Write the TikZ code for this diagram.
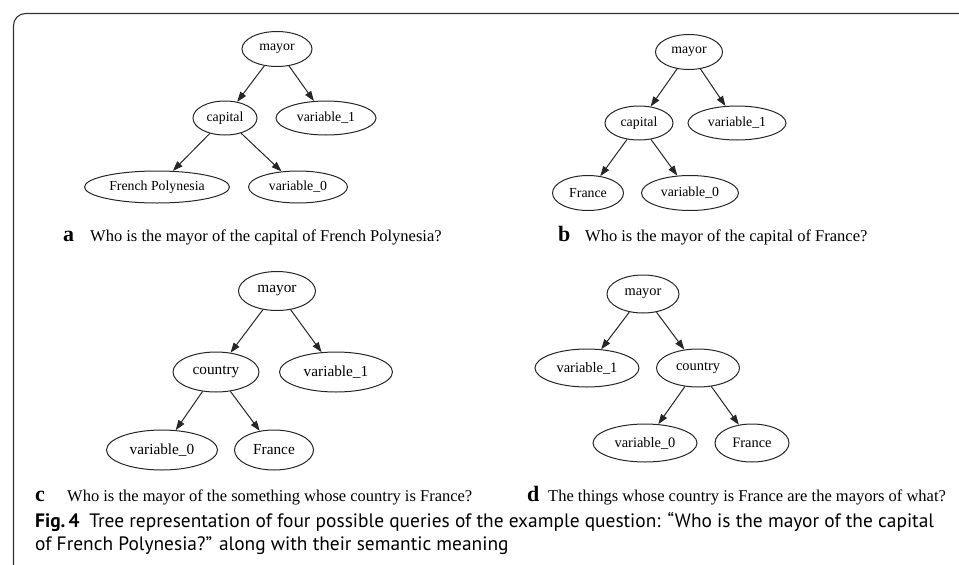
\documentclass[tikz,border=0pt]{standalone}
\usepackage{fontspec}
\setmainfont{Liberation Serif}
\newfontfamily\capfont{PT Sans}
\usetikzlibrary{shapes.geometric,arrows.meta}
\begin{document}
\begin{tikzpicture}[x=1pt,y=-1pt,
  nd/.style={ellipse, draw=black!85, line width=1pt, inner sep=0pt},
  fa/.style={font=\fontsize{13.8}{16}\selectfont},
  fc/.style={font=\fontsize{15.3}{18}\selectfont},
  fd/.style={font=\fontsize{14.4}{17}\selectfont},
  edge/.style={draw=black!85, line width=1pt, -{Triangle[length=10pt,width=7pt]}},
  lbl/.style={anchor=base west, inner sep=0pt, font=\fontsize{22}{24}\selectfont\bfseries},
  qtxt/.style={anchor=base west, inner sep=0pt, font=\fontsize{16.5}{19}\selectfont},
  captxt/.style={anchor=base west, inner sep=0pt, font=\capfont\fontsize{19.4}{23}\selectfont}]
\useasboundingbox (0,0) rectangle (959,565);
% frame
\draw[black!80, line width=1.1pt, rounded corners=12pt] (959,13.5) -- (13.5,13.5) -- (13.5,565);

% panel a
\node[nd,fa,minimum width=70pt,minimum height=35pt] (am) at (277,49) {mayor};
\node[nd,fa,minimum width=64pt,minimum height=34pt] (ac) at (225,118) {capital};
\node[nd,fa,minimum width=100pt,minimum height=34pt] (av1) at (326,118) {variable\_1};
\node[nd,fa,minimum width=145pt,minimum height=32pt] (afp) at (157,187) {French Polynesia};
\node[nd,fa,minimum width=99pt,minimum height=32pt] (av0) at (298,187) {variable\_0};
\draw[edge] (am) -- (ac);
\draw[edge] (am) -- (av1);
\draw[edge] (ac) -- (afp);
\draw[edge] (ac) -- (av0);
\node[lbl] (al) at (63,241) {a};
\node[qtxt] (aq) at (90,241) {Who is the mayor of the capital of French Polynesia?};

% panel b
\node[nd,fa,minimum width=67pt,minimum height=35pt] (bm) at (689,52) {mayor};
\node[nd,fa,minimum width=68pt,minimum height=34pt] (bc) at (639,123) {capital};
\node[nd,fa,minimum width=98pt,minimum height=34pt] (bv1) at (737,123) {variable\_1};
\node[nd,fa,minimum width=71pt,minimum height=35pt] (bfr) at (588,193) {France};
\node[nd,fa,minimum width=97pt,minimum height=35pt] (bv0) at (690,193) {variable\_0};
\draw[edge] (bm) -- (bc);
\draw[edge] (bm) -- (bv1);
\draw[edge] (bc) -- (bfr);
\draw[edge] (bc) -- (bv0);
\node[lbl] (bl) at (558,241) {b};
\node[qtxt] (bq) at (585,241) {Who is the mayor of the capital of France?};

% panel c
\node[nd,fc,minimum width=77pt,minimum height=39pt] (cm) at (277,291) {mayor};
\node[nd,fc,minimum width=86pt,minimum height=40pt] (cc) at (216,372) {country};
\node[nd,fc,minimum width=113pt,minimum height=40pt] (cv1) at (336,372) {variable\_1};
\node[nd,fc,minimum width=111pt,minimum height=40pt] (cv0) at (162,450) {variable\_0};
\node[nd,fc,minimum width=79pt,minimum height=40pt] (cfr) at (274,450) {France};
\draw[edge] (cm) -- (cc);
\draw[edge] (cm) -- (cv1);
\draw[edge] (cc) -- (cv0);
\draw[edge] (cc) -- (cfr);
\node[lbl] (cl) at (35,501) {c};
\node[qtxt] (cq) at (67,501) {Who is the mayor of the something whose country is France?};

% panel d
\node[nd,fd,minimum width=72pt,minimum height=38pt] (dm) at (643,294) {mayor};
\node[nd,fd,minimum width=104pt,minimum height=38pt] (dv1) at (587,368) {variable\_1};
\node[nd,fd,minimum width=83pt,minimum height=38pt] (dc) at (698,368) {country};
\node[nd,fd,minimum width=104pt,minimum height=38pt] (dv0) at (645,443) {variable\_0};
\node[nd,fd,minimum width=74pt,minimum height=38pt] (dfr) at (752,443) {France};
\draw[edge] (dm) -- (dv1);
\draw[edge] (dm) -- (dc);
\draw[edge] (dc) -- (dv0);
\draw[edge] (dc) -- (dfr);
\node[lbl] (dl) at (527,501) {d};
\node[qtxt] (dq) at (548,501) {The things whose country is France are the mayors of what?};

% figure caption
\node[captxt] (cap1) at (35,527) {\textbf{Fig.\,4}\enspace Tree representation of four possible queries of the example question: “Who is the mayor of the capital};
\node[captxt] (cap2) at (35,550) {of French Polynesia?” along with their semantic meaning};
\end{tikzpicture}
\end{document}
